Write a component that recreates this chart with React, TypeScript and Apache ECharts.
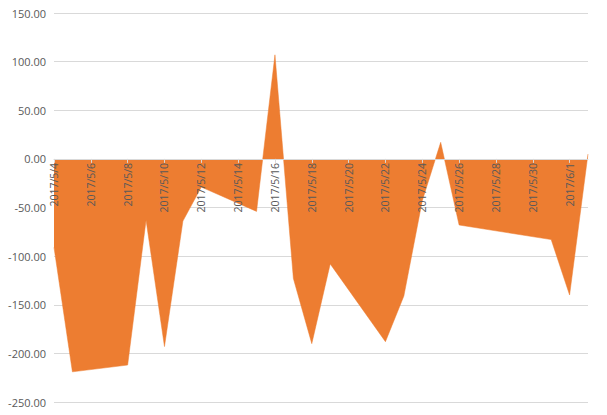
import React, { useEffect, useRef } from "react";
import * as echarts from "echarts";

const dates = [
  "2017/5/4", "2017/5/5", "2017/5/6", "2017/5/7", "2017/5/8", "2017/5/9", "2017/5/10",
  "2017/5/11", "2017/5/12", "2017/5/13", "2017/5/14", "2017/5/15", "2017/5/16", "2017/5/17",
  "2017/5/18", "2017/5/19", "2017/5/20", "2017/5/21", "2017/5/22", "2017/5/23", "2017/5/24",
  "2017/5/25", "2017/5/26", "2017/5/27", "2017/5/28", "2017/5/29", "2017/5/30", "2017/5/31",
  "2017/6/1", "2017/6/2",
];

// null = no data (weekends / holidays); the line connects across them
const values: (number | null)[] = [
  -91, -219, null, null, -212, -63, -193,
  -64, -29, null, null, -54, 107, -123,
  -190, -108, null, null, -188, -141, -43,
  17, -68, null, null, null, null, -83,
  -140, 5,
];

const yMin = -250;
const yMax = 150;
const yStep = 50;

const GRID_TOP = 13;
const GRID_BOTTOM = 13;
const CHART_H = 415;

export default function App() {
  const ref = useRef<HTMLDivElement>(null);
  useEffect(() => {
    if (!ref.current) return;
    const chart = echarts.init(ref.current, null, { renderer: "svg" });
    const plotH = CHART_H - GRID_TOP - GRID_BOTTOM;
    const zeroOffset = (plotH * (0 - yMin)) / (yMax - yMin);
    chart.setOption({
      animation: false,
      backgroundColor: "#ffffff",
      grid: { left: 54, right: 19, top: GRID_TOP, bottom: GRID_BOTTOM, containLabel: false, outerBoundsMode: "none" },
      xAxis: {
        type: "category",
        data: dates,
        boundaryGap: false,
        position: "bottom",
        offset: -zeroOffset,
        z: 5,
        axisLine: { onZero: false, lineStyle: { color: "#d9d9d9", width: 1 } },
        axisTick: { show: true, interval: 1, length: 4, lineStyle: { color: "#d9d9d9" } },
        axisLabel: {
          interval: 1,
          rotate: 90,
          margin: 4,
          color: "#595959",
          fontSize: 10.5,
          fontFamily: "Open Sans",
        },
        splitLine: { show: false },
      },
      yAxis: {
        type: "value",
        min: yMin,
        max: yMax,
        interval: yStep,
        axisLine: { show: false },
        axisTick: { show: false },
        axisLabel: {
          margin: 8,
          color: "#595959",
          fontSize: 11,
          fontFamily: "Open Sans",
          formatter: (v: number) => v.toFixed(2),
        },
        splitLine: { lineStyle: { color: "#d9d9d9", width: 1 } },
      },
      series: [
        {
          type: "line",
          data: values,
          connectNulls: true,
          showSymbol: false,
          symbol: "none",
          lineStyle: { width: 0.5, color: "#ED7D31" },
          areaStyle: { color: "#ED7D31", opacity: 1 },
          z: 2,
        },
      ],
    });
    return () => chart.dispose();
  }, []);
  return (
    <div
      ref={ref}
      style={{ position: "absolute", left: 0, top: 0, width: 607, height: 415 }}
    />
  );
}
